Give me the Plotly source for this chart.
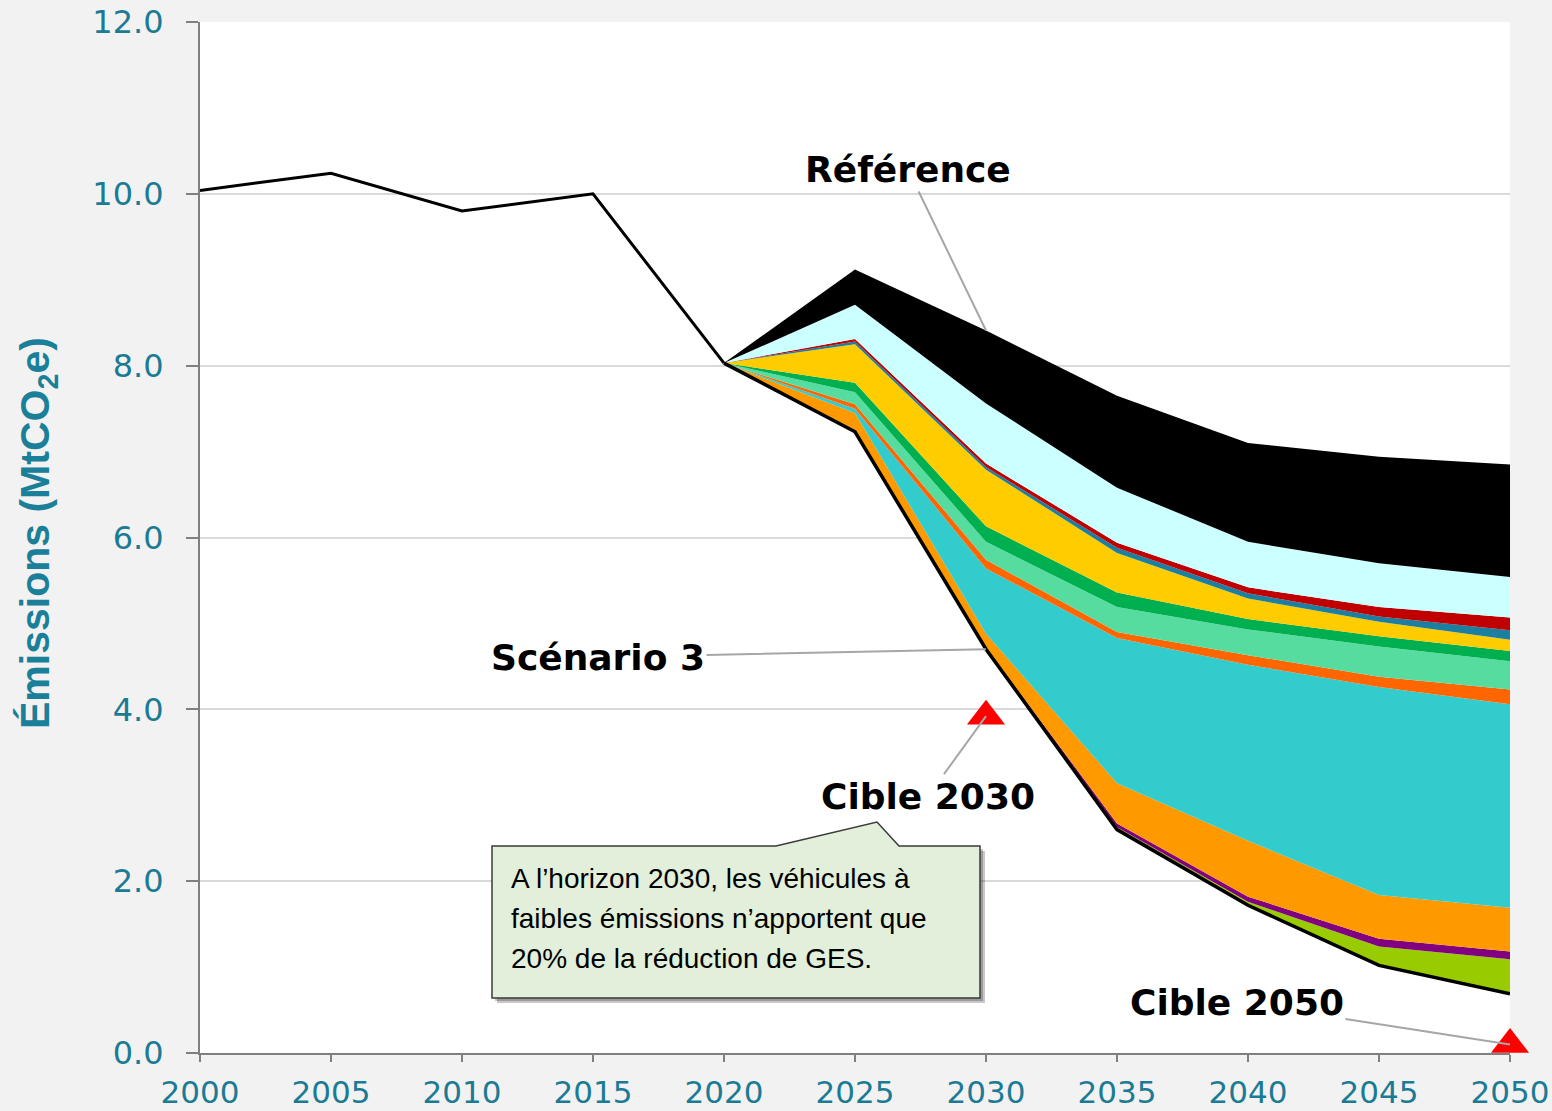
import plotly.graph_objects as go

# ---------------- data ----------------
hist_years = [2000, 2005, 2010, 2015, 2020]
hist_values = [10.04, 10.24, 9.80, 10.00, 8.03]

years = [2020, 2025, 2030, 2035, 2040, 2045, 2050]
scenario3 = [8.03, 7.23, 4.70, 2.60, 1.72, 1.02, 0.69]

# wedge thicknesses stacked from the Scénario 3 line up to the Référence line
wedge_yellowgreen = [0, 0.01, 0.01, 0.03, 0.04, 0.22, 0.40]
wedge_purple      = [0, 0.01, 0.01, 0.04, 0.06, 0.09, 0.09]
wedge_orange      = [0, 0.20, 0.16, 0.47, 0.65, 0.51, 0.51]
wedge_teal        = [0, 0.05, 0.76, 1.69, 2.05, 2.42, 2.37]
wedge_orangered   = [0, 0.05, 0.10, 0.07, 0.11, 0.12, 0.17]
wedge_lightgreen  = [0, 0.14, 0.21, 0.29, 0.30, 0.35, 0.33]
wedge_green       = [0, 0.11, 0.18, 0.17, 0.12, 0.12, 0.12]
wedge_yellow      = [0, 0.45, 0.66, 0.46, 0.24, 0.17, 0.13]
wedge_blue        = [0, 0.03, 0.03, 0.06, 0.06, 0.06, 0.11]
wedge_red         = [0, 0.03, 0.04, 0.06, 0.07, 0.11, 0.15]
wedge_cyan        = [0, 0.40, 0.70, 0.64, 0.53, 0.51, 0.47]
wedge_black       = [0, 0.41, 0.85, 1.07, 1.15, 1.24, 1.31]

wedges = [
    ("w1", wedge_yellowgreen, "#99cc00"),
    ("w2", wedge_purple, "#800080"),
    ("w3", wedge_orange, "#ff9900"),
    ("w4", wedge_teal, "#33cccc"),
    ("w5", wedge_orangered, "#ff6600"),
    ("w6", wedge_lightgreen, "#57dc9f"),
    ("w7", wedge_green, "#00b050"),
    ("w8", wedge_yellow, "#ffcc00"),
    ("w9", wedge_blue, "#1c7f9f"),
    ("w10", wedge_red, "#c00000"),
    ("w11", wedge_cyan, "#ccffff"),
    ("w12", wedge_black, "#000000"),
]

target_years = [2030, 2050]
target_values = [3.92, 0.10]

x_ticks = [2000, 2005, 2010, 2015, 2020, 2025, 2030, 2035, 2040, 2045, 2050]
y_ticks = [0, 2, 4, 6, 8, 10, 12]

callout_lines = [
    "A l’horizon 2030, les véhicules à",
    "faibles émissions n’apportent que",
    "20% de la réduction de GES.",
]

# ---------------- layout helpers ----------------
W, H = 1552, 1111
L, R, T, B = 200, 42, 22, 58
PW, PH = W - L - R, H - T - B


def px(xp):
    return (xp - L) / PW


def py(yp):
    return (H - B - yp) / PH


TEAL = "#1b7b94"

fig = go.Figure()

# base (invisible) of the stack = Scénario 3
fig.add_trace(go.Scatter(x=years, y=scenario3, stackgroup="s", mode="lines",
                         line=dict(width=0), fillcolor="rgba(0,0,0,0)",
                         showlegend=False, hoverinfo="skip"))
for name, vals, col in wedges:
    fig.add_trace(go.Scatter(x=years, y=vals, stackgroup="s", mode="lines",
                             name=name, line=dict(width=0, color=col),
                             fillcolor=col, showlegend=False))

# historical line and scenario 3 line
fig.add_trace(go.Scatter(x=hist_years, y=hist_values, mode="lines",
                         line=dict(color="black", width=3), showlegend=False))
fig.add_trace(go.Scatter(x=years, y=scenario3, mode="lines",
                         line=dict(color="black", width=3.5), showlegend=False))

# targets
fig.add_trace(go.Scatter(x=target_years, y=target_values, mode="markers",
                         marker=dict(symbol="triangle-up", size=33, color="#ff0000",
                                     line=dict(width=0)),
                         cliponaxis=False, showlegend=False))

# callout box (shadow, box, pointer)
shapes = []
shapes.append(dict(type="rect", xref="paper", yref="paper",
                   x0=px(497), x1=px(985), y0=py(1003), y1=py(851),
                   fillcolor="rgba(0,0,0,0.22)", line=dict(width=0), layer="above"))
shapes.append(dict(type="rect", xref="paper", yref="paper",
                   x0=px(495), x1=px(983), y0=py(1001), y1=py(849),
                   fillcolor="rgba(0,0,0,0.22)", line=dict(width=0), layer="above"))
shapes.append(dict(type="path", xref="paper", yref="paper",
                   path=(f"M {px(492)},{py(846)} L {px(776)},{py(846)} L {px(877)},{py(822)} "
                         f"L {px(899)},{py(846)} L {px(980)},{py(846)} L {px(980)},{py(998)} "
                         f"L {px(492)},{py(998)} Z"),
                   fillcolor="#e2efda", line=dict(color="#3a3a3a", width=1.5), layer="above"))
fig.update_layout(shapes=shapes)

annotations = []
bold_font = dict(family="DejaVu Sans", size=36, color="black")
ann_common = dict(showarrow=True, arrowhead=0, arrowwidth=2, arrowcolor="#a6a6a6",
                  standoff=0, font=bold_font, xref="x", yref="y", axref="pixel", ayref="pixel")
annotations.append(dict(text="<b>Référence</b>", x=2030, y=8.41, ax=-78, ay=-161, **ann_common))
annotations.append(dict(text="<b>Scénario 3</b>", x=2030, y=4.70, ax=-388, ay=8, **ann_common))
annotations.append(dict(text="<b>Cible 2030</b>", x=2030, y=3.92, ax=-58, ay=80, **ann_common))
annotations.append(dict(text="<b>Cible 2050</b>", x=2050, y=0.10, ax=-273, ay=-42, **ann_common))

for i, line in enumerate(callout_lines):
    annotations.append(dict(
        text=line, xref="paper", yref="paper", x=px(509), y=py(878 + 40 * i),
        xanchor="left", yanchor="middle", align="left", showarrow=False,
        font=dict(family="Liberation Sans Narrow, Arial Narrow, Liberation Sans, sans-serif",
                  size=28, color="black")))

annotations.append(dict(
    text="<b>Émissions (MtCO<sub>2</sub>e)</b>", xref="paper", yref="paper",
    x=px(38), y=py(533), xanchor="center", yanchor="middle", textangle=-90, showarrow=False,
    font=dict(family="Liberation Sans Narrow, Arial Narrow, sans-serif", size=41, color="#1a8099")))
fig.update_layout(annotations=annotations)

fig.update_layout(
    width=W, height=H,
    margin=dict(l=L, r=R, t=T, b=B, pad=0, autoexpand=False),
    paper_bgcolor="#f2f2f2", plot_bgcolor="white",
    showlegend=False,
    xaxis=dict(range=[2000, 2050], tickvals=x_ticks, ticks="outside", ticklen=7,
               tickcolor="#808080", tickwidth=2, showline=True, linecolor="#808080",
               linewidth=2, showgrid=False, zeroline=False, ticklabelstandoff=4,
               automargin=False,
               tickfont=dict(family="DejaVu Sans", size=31, color=TEAL)),
    yaxis=dict(range=[0, 12], tickvals=y_ticks, tickformat=".1f", ticks="outside",
               ticklen=12, tickcolor="#808080", tickwidth=2, showline=True,
               linecolor="#808080", linewidth=2, showgrid=True, gridcolor="#d9d9d9",
               gridwidth=2, zeroline=False, ticklabelstandoff=16, automargin=False,
               tickfont=dict(family="DejaVu Sans", size=32, color=TEAL)),
)

fig.write_html("out.html", config={"displayModeBar": False},
               post_script="document.body.style.margin='0';document.body.style.background='#f2f2f2';")
